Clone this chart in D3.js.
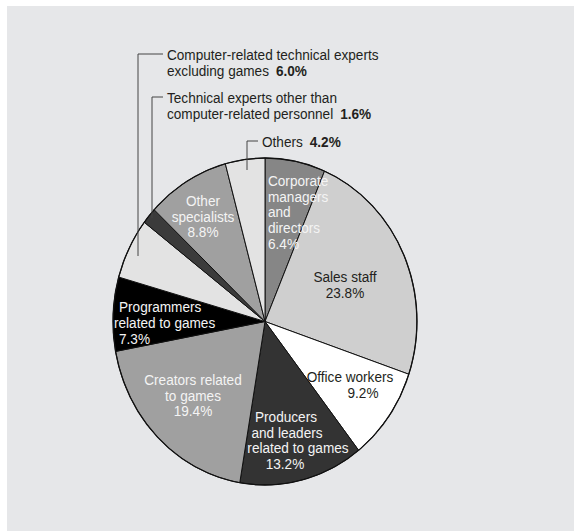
<!DOCTYPE html>
<html>
<head>
<meta charset="utf-8">
<script src="https://cdn.jsdelivr.net/npm/d3@7"></script>
<style>
  html, body { margin: 0; padding: 0; background: #ffffff; }
  svg { display: block; }
  text { font-family: "Liberation Sans", Arial, Helvetica, sans-serif; font-size: 13.6px; }
</style>
</head>
<body>
<svg id="chart" width="574" height="531"></svg>
<script>
// Occupation breakdown, clockwise from 12 o'clock
const categories = [
  "Corporate managers and directors",
  "Sales staff",
  "Office workers",
  "Producers and leaders related to games",
  "Creators related to games",
  "Programmers related to games",
  "Computer-related technical experts excluding games",
  "Technical experts other than computer-related personnel",
  "Other specialists",
  "Others"
];
const shares = [6.4, 23.8, 9.2, 13.2, 19.4, 7.3, 6.0, 1.6, 8.8, 4.2];

// Text lines for each category label (the share is appended as the last piece)
const labelLines = [
  ["Corporate", "managers", "and", "directors"],
  ["Sales staff"],
  ["Office workers"],
  ["Producers", "and leaders", "related to games"],
  ["Creators related", "to games"],
  ["Programmers", "related to games"],
  ["Computer-related technical experts", "excluding games"],
  ["Technical experts other than", "computer-related personnel"],
  ["Other", "specialists"],
  ["Others"]
];

const fills = ["#868686", "#cfcfcf", "#ffffff", "#333333", "#a0a0a0",
               "#000000", "#e3e3e3", "#3b3b3b", "#a0a0a0", "#e3e3e3"];

const svg = d3.select("#chart");
const W = 574, H = 531;

// background panel
svg.append("rect").attr("x", 7).attr("y", 6).attr("width", W - 7).attr("height", H - 6)
  .attr("fill", "#e6e7e9");

// the pie is drawn slightly taller than wide
const cx = 265, cy = 321.5, r = 152, sy = 163.5 / 152;
// labels use a narrow, tall letterform
const ty = 1.13;

const pie = d3.pie().sort(null).value(d => d);
const arcs = pie(shares);
const arc = d3.arc().innerRadius(0).outerRadius(r);

const g = svg.append("g")
  .attr("transform", `translate(${cx},${cy}) scale(1,${sy})`);

g.selectAll("path.slice")
  .data(arcs)
  .join("path")
  .attr("class", "slice")
  .attr("d", arc)
  .attr("fill", (d, i) => fills[i])
  .attr("stroke", "#111")
  .attr("stroke-width", 1)
  .attr("stroke-linejoin", "round")
  .attr("vector-effect", "non-scaling-stroke");

g.append("ellipse").attr("rx", r).attr("ry", r)
  .attr("fill", "none").attr("stroke", "#111").attr("stroke-width", 1.3)
  .attr("vector-effect", "non-scaling-stroke");

const pct = v => v.toFixed(1) + "%";

// Label placement: anchor, colour, per-line [x, baseline], and whether the share
// shares the last text line (inline) or sits on its own line.
const labelLayout = [
  { anchor: "start",  color: "#f4f4f4", lines: [[268,186],[268,202],[268,217],[268,233],[268,249]] },
  { anchor: "middle", color: "#231f20", lines: [[345,282],[345,298]] },
  { anchor: "middle", color: "#231f20", lines: [[350,382],[363,398]] },
  { anchor: "middle", color: "#f4f4f4", lines: [[286,422],[287,438],[298,453],[285,469]] },
  { anchor: "middle", color: "#f4f4f4", lines: [[193,385],[193,401],[193,416]] },
  { anchor: "start",  color: "#f4f4f4", lines: [[119,312],[114,328],[119,344]] },
  { anchor: "start",  color: "#231f20", inline: true, lines: [[167,60],[167,76]] },
  { anchor: "start",  color: "#231f20", inline: true, lines: [[167,103],[167,119]] },
  { anchor: "middle", color: "#f4f4f4", lines: [[203,206],[203,222],[203,237]] },
  { anchor: "start",  color: "#231f20", inline: true, lines: [[262,147]] }
];

// Leader lines for the outside labels: polyline points
const leaders = [
  { idx: 6, pts: [[163,54],[138,54],[138,256]] },
  { idx: 7, pts: [[163,97],[152,97],[152,218]] },
  { idx: 9, pts: [[258,141],[247,141],[247,170]] }
];

svg.selectAll("polyline.leader")
  .data(leaders)
  .join("polyline")
  .attr("class", "leader")
  .attr("points", d => d.pts.map(p => p.join(",")).join(" "))
  .attr("fill", "none")
  .attr("stroke", "#444")
  .attr("stroke-width", 1);

const labels = svg.append("g").attr("transform", `scale(1,${ty})`);

labelLayout.forEach((lay, i) => {
  const lines = labelLines[i];
  const t = labels.append("text")
    .attr("text-anchor", lay.anchor)
    .attr("fill", lay.color);
  lines.forEach((ln, j) => {
    t.append("tspan")
      .attr("x", lay.lines[j][0])
      .attr("y", lay.lines[j][1] / ty)
      .text(ln);
    if (lay.inline && j === lines.length - 1) {
      t.append("tspan").attr("dx", 7).attr("font-weight", "bold").text(pct(shares[i]));
    }
  });
  if (!lay.inline) {
    const p = lay.lines[lines.length];
    t.append("tspan").attr("x", p[0]).attr("y", p[1] / ty).text(pct(shares[i]));
  }
});
</script>
</body>
</html>
